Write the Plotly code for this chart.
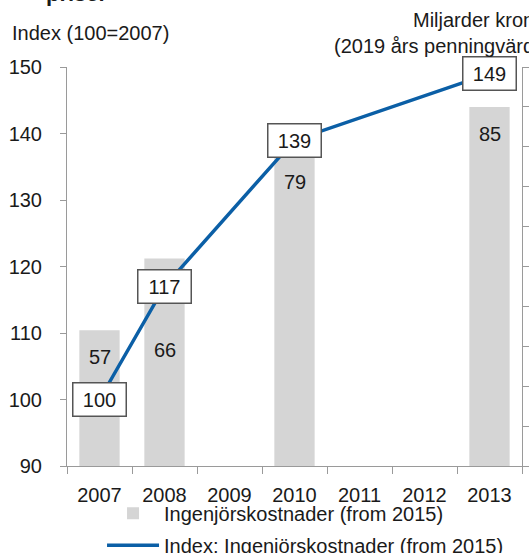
import plotly.graph_objects as go

# Data
years = ["2007", "2008", "2009", "2010", "2011", "2012", "2013"]
costs_bn = [57, 66, None, 79, None, None, 85]          # Miljarder kronor (right axis)
cost_index = [100, 117, None, 139, None, None, 149]    # Index (100=2007) (left axis)

bar_name = "Ingenjörskostnader (from 2015)"
line_name = "Index: Ingenjörskostnader (from 2015)"

FONT = "Liberation Sans, Arial, Helvetica, sans-serif"
TXT = "#1a1a1a"
AXIS = "#9a9a9a"
BAR = "#d5d5d5"
LINE = "#0b5fa6"

fig = go.Figure()

fig.add_trace(go.Bar(
    x=years, y=costs_bn, name=bar_name, legendgroup="bars",
    marker=dict(color=BAR, line=dict(width=0)),
    yaxis="y",
))

fig.add_trace(go.Scatter(
    x=years, y=cost_index, name=line_name, legendgroup="line",
    mode="lines", connectgaps=True,
    line=dict(color=LINE, width=3.5),
    yaxis="y2",
))

# boxed labels on the index line (category index used as x position)
for i, v in enumerate(cost_index):
    if v is None:
        continue
    fig.add_annotation(
        x=i, y=v, xref="x", yref="y2", text=str(v), showarrow=False,
        font=dict(size=20, color=TXT, family=FONT),
        bgcolor="white", bordercolor="#555555", borderwidth=1.5,
        borderpad=5, width=42, height=22, yanchor="middle",
    )

# value labels inside the bars, pushed down where a box is in the way
label_drop = {"2008": -78}
for i, v in enumerate(costs_bn):
    if v is None:
        continue
    fig.add_annotation(
        x=i, y=v, xref="x", yref="y", text=str(v), showarrow=False,
        font=dict(size=20, color=TXT, family=FONT),
        yanchor="top", yshift=label_drop.get(years[i], -14),
    )

# titles
fig.add_annotation(
    xref="paper", yref="paper", x=-0.05, y=1, yshift=59,
    xanchor="left", yanchor="bottom", text="<b>priser</b>", showarrow=False,
    font=dict(size=22, color=TXT, family=FONT),
)
fig.add_annotation(
    xref="paper", yref="paper", x=-0.125, y=1, yshift=34,
    xanchor="left", yanchor="middle", text="Index (100=2007)", showarrow=False,
    font=dict(size=20, color=TXT, family=FONT),
)
fig.add_annotation(
    xref="paper", yref="paper", x=1.07, y=1, yshift=34,
    xanchor="right", yanchor="middle", align="right",
    text="Miljarder kronor<br>(2019 års penningvärde)", showarrow=False,
    font=dict(size=20, color=TXT, family=FONT),
)

fig.update_layout(
    width=529, height=553,
    margin=dict(l=67, r=7, t=67, b=87, autoexpand=False),
    paper_bgcolor="white", plot_bgcolor="white",
    font=dict(family=FONT, size=20, color=TXT),
    bargap=0.38,
    showlegend=True,
    legend=dict(
        orientation="v", x=0.077, y=0.107, xanchor="left", yanchor="top",
        xref="paper", yref="container", itemwidth=52,
        font=dict(size=20, color=TXT, family=FONT),
        bgcolor="rgba(0,0,0,0)", traceorder="grouped", tracegroupgap=3,
    ),
    xaxis=dict(
        type="category", range=[-0.5, 6.5], tickson="boundaries",
        ticks="outside", ticklen=7, tickangle=0, automargin=False,
        tickcolor=AXIS, showline=True, linecolor=AXIS, linewidth=1,
        showgrid=False, ticklabelstandoff=11,
        tickfont=dict(size=20, color=TXT, family=FONT),
    ),
    yaxis=dict(
        side="right", range=[40, 90], dtick=5, ticks="outside", ticklen=6,
        tickcolor=AXIS, showline=True, linecolor=AXIS, linewidth=1,
        showgrid=False, zeroline=False, showticklabels=False, automargin=False,
    ),
    yaxis2=dict(
        side="left", overlaying="y", range=[90, 150], dtick=10,
        ticks="outside", ticklen=6, tickcolor=AXIS, automargin=False,
        showline=True, linecolor=AXIS, linewidth=1,
        showgrid=False, zeroline=False, ticklabelstandoff=14,
        tickfont=dict(size=20, color=TXT, family=FONT),
    ),
)

# drop the browser's default page margin so the figure sits at the corner
fig.write_html(
    "out.html",
    config={"displayModeBar": False},
    post_script="document.body.style.margin='0';",
)
